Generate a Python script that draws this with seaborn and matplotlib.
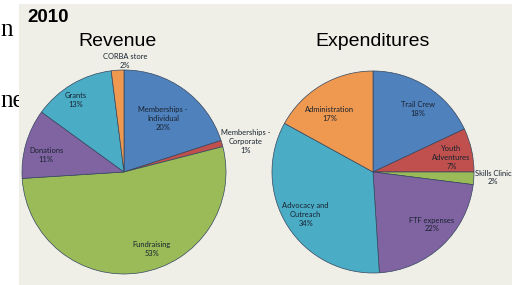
import numpy as np
import matplotlib
matplotlib.use("Agg")
import matplotlib.pyplot as plt
from matplotlib.patches import Rectangle
import seaborn as sns

sns.set_theme(style="white")
plt.rcParams['font.family'] = ['Liberation Sans', 'DejaVu Sans']

# --- data ---
rev_labels = ["Memberships -\nIndividual", "Memberships -\nCorporate", "Fundraising",
              "Donations", "Grants", "CORBA store"]
rev_values = [20, 1, 53, 11, 13, 2]

exp_labels = ["Trail Crew", "Youth\nAdventures", "Skills Clinic", "FTF expenses",
              "Advocacy and\nOutreach", "Administration"]
exp_values = [18, 7, 2, 22, 34, 17]

# office-ish palette: blue, red, green, purple, aqua, orange
pal = sns.color_palette(["#4F81BD", "#C0504D", "#9BBB59", "#8064A2", "#4BACC6", "#EE9850"])
rev_colors = pal
exp_colors = pal

# label layout (radius units, degree nudges)
rev_dist = [0.65, 1.23, 0.80, 0.78, 0.85, 1.09]
rev_nudge = [0, 2, -11, -4, -3, 4]
exp_dist = [0.77, 0.79, 1.19, 0.78, 0.79, 0.72]
exp_nudge = [3, 2, -1, -5, 0, -6]

W, H = 512, 285
fig = plt.figure(figsize=(W / 100, H / 100), dpi=100)
fig.patch.set_facecolor("white")

# slide text peeking out behind the chart picture
fig.text(0 / W, 1 - 36 / H, "n", family="Liberation Serif", fontsize=18,
         ha="left", va="baseline", color="black", zorder=0)
fig.text(0 / W, 1 - 107 / H, "ne", family="Liberation Serif", fontsize=18,
         ha="left", va="baseline", color="black", zorder=0)

fig.patches.append(Rectangle((19 / W, 0), 1, 1 - 4 / H, transform=fig.transFigure,
                             facecolor="#EFEFE8", edgecolor="none", zorder=1))


def draw_pie(cx, cy, r, values, labels, colors, dists, nudges, title, title_x):
    ax = fig.add_axes([(cx - r) / W, (H - cy - r) / H, 2 * r / W, 2 * r / H])
    ax.set_zorder(2)
    ax.patch.set_visible(False)
    wedges, _ = ax.pie(values, colors=colors, startangle=90, counterclock=False,
                       radius=1, wedgeprops=dict(edgecolor="#34465e", linewidth=0.5))
    ax.set_xlim(-1, 1)
    ax.set_ylim(-1, 1)
    ax.set_aspect("equal")
    ax.axis("off")
    total = sum(values)
    for w, lab, v, d, n in zip(wedges, labels, values, dists, nudges):
        mid = np.deg2rad((w.theta1 + w.theta2) / 2 - n)
        ax.text(d * np.cos(mid), d * np.sin(mid), f"{lab}\n{round(100 * v / total)}%",
                ha="center", va="center", fontsize=5.4, family="Lato",
                color="#18222e", linespacing=1.3, clip_on=False)
    fig.text(title_x / W, 1 - 46 / H, title, ha="center", va="baseline",
             fontsize=14, color="black", zorder=3)


draw_pie(124, 172, 102, rev_values, rev_labels, rev_colors, rev_dist, rev_nudge,
         "Revenue", 117)
draw_pie(373, 172, 101, exp_values, exp_labels, exp_colors, exp_dist, exp_nudge,
         "Expenditures", 373)

fig.text(27 / W, 1 - 18 / H, "2010", ha="left", va="center", fontsize=13.5,
         fontweight="bold", color="black", zorder=3)

fig.savefig("out.png", dpi=100)
